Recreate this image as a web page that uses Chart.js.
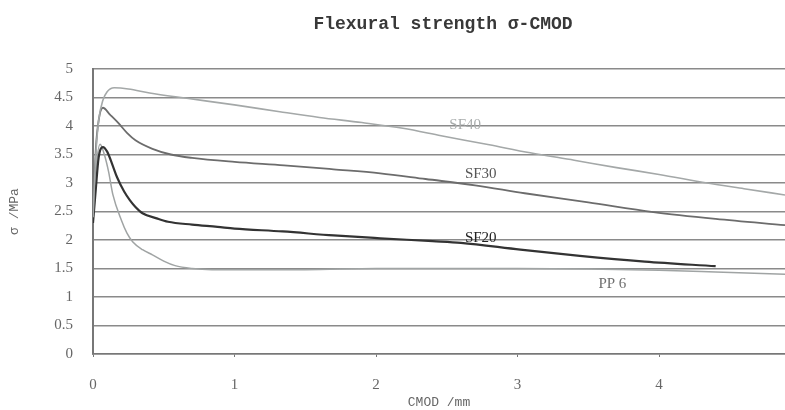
<!DOCTYPE html>
<html>
<head>
<meta charset="utf-8">
<script src="https://cdn.jsdelivr.net/npm/chart.js@4/dist/chart.umd.min.js"></script>
<style>
html,body{margin:0;padding:0;background:#fff;}
#wrap{width:785px;height:410px;}
</style>
</head>
<body>
<div id="wrap"><canvas id="c" width="785" height="410"></canvas></div>
<script>
const chartTitle = "Flexural strength \u03c3-CMOD";
const xTitle = "CMOD /mm";
const yTitle = "\u03c3 /MPa";

const sf40X = [0, 0.02, 0.04, 0.07, 0.1, 0.15, 0.25, 0.4, 0.65, 1.0, 1.32, 1.6, 1.9, 2.19, 2.46, 2.8, 3.09, 3.4, 3.7, 4.0, 4.34, 4.6, 4.89];
const sf40Y = [2.4, 3.5, 4.1, 4.45, 4.6, 4.67, 4.65, 4.58, 4.49, 4.37, 4.25, 4.15, 4.06, 3.96, 3.83, 3.67, 3.53, 3.40, 3.27, 3.15, 3.0, 2.9, 2.79];

const sf30X = [0, 0.02, 0.04, 0.07, 0.12, 0.18, 0.24, 0.3, 0.42, 0.55, 0.7, 1.0, 1.35, 1.7, 2.03, 2.35, 2.7, 3.05, 3.5, 3.96, 4.4, 4.89];
const sf30Y = [2.4, 3.6, 4.1, 4.32, 4.2, 4.05, 3.88, 3.75, 3.6, 3.5, 3.44, 3.37, 3.31, 3.24, 3.17, 3.07, 2.96, 2.82, 2.66, 2.49, 2.37, 2.26];

const sf20X = [0, 0.02, 0.04, 0.07, 0.1, 0.14, 0.17, 0.22, 0.26, 0.3, 0.35, 0.45, 0.53, 0.7, 0.88, 1.0, 1.34, 1.7, 2.03, 2.4, 2.6, 3.02, 3.44, 3.9, 4.4];
const sf20Y = [2.3, 2.9, 3.45, 3.63, 3.55, 3.3, 3.1, 2.85, 2.7, 2.58, 2.47, 2.38, 2.32, 2.27, 2.23, 2.2, 2.15, 2.08, 2.03, 1.98, 1.95, 1.83, 1.72, 1.62, 1.54];

const pp6X = [0, 0.02, 0.05, 0.08, 0.11, 0.14, 0.2, 0.24, 0.28, 0.35, 0.42, 0.5, 0.58, 0.7, 0.84, 1.0, 1.5, 2.0, 2.5, 3.0, 3.5, 4.0, 4.4, 4.89];
const pp6Y = [2.3, 3.2, 3.68, 3.5, 3.2, 2.8, 2.35, 2.12, 1.97, 1.83, 1.74, 1.63, 1.55, 1.5, 1.48, 1.48, 1.48, 1.5, 1.5, 1.5, 1.49, 1.47, 1.44, 1.4];

const seriesNames = ["SF40", "SF30", "SF20", "PP 6"];
const labelX = [2.63, 2.74, 2.74, 3.67];
const labelY = [4.01, 3.15, 2.04, 1.23];

const xMin = 0, xMax = 4.89, xStep = 1;
const yMin = 0, yMax = 5, yStep = 0.5;

function pts(xs, ys){ return xs.map((x,i)=>({x:x, y:ys[i]})); }

const lineColors = ["#a4a8a8", "#6c6c6c", "#333333", "#a0a4a4"];
const lineWidths = [1.6, 1.8, 2.2, 1.5];
const labelColors = ["#a8acac", "#555555", "#222222", "#707070"];

const titlePlugin = {
  id: 'titleAndLabels',
  afterDatasetsDraw(chart){
    const ctx = chart.ctx;
    const area = chart.chartArea;
    const xs = chart.scales.x, ys = chart.scales.y;
    ctx.save();
    ctx.fillStyle = "#383838";
    ctx.font = "bold 18px 'Liberation Mono', monospace";
    ctx.textAlign = "center";
    ctx.textBaseline = "middle";
    ctx.fillText(chartTitle, (area.left + area.right)/2 + 4, 24);
    ctx.font = "15px 'Liberation Serif', serif";
    seriesNames.forEach((n,i)=>{
      ctx.fillStyle = labelColors[i];
      ctx.fillText(n, xs.getPixelForValue(labelX[i]), ys.getPixelForValue(labelY[i]));
    });
    ctx.restore();
  }
};

new Chart(document.getElementById('c'), {
  type: 'scatter',
  data: {
    datasets: [
      {label: seriesNames[0], data: pts(sf40X, sf40Y)},
      {label: seriesNames[1], data: pts(sf30X, sf30Y)},
      {label: seriesNames[2], data: pts(sf20X, sf20Y)},
      {label: seriesNames[3], data: pts(pp6X, pp6Y)}
    ].map((d,i)=>Object.assign(d, {
      showLine: true, pointRadius: 0, borderColor: lineColors[i], backgroundColor: lineColors[i],
      borderWidth: lineWidths[i], cubicInterpolationMode: 'monotone', fill: false
    }))
  },
  options: {
    responsive: false,
    animation: false,
    layout: {padding: {top: 69, left: 0, right: 0, bottom: 0}},
    plugins: {legend: {display: false}, tooltip: {enabled: false}, title: {display: false}},
    scales: {
      x: {
        type: 'linear', min: xMin, max: xMax,
        afterFit(s){ s.height = 56; },
        ticks: {stepSize: xStep, includeBounds: false, padding: 19, color: '#666',
          callback: v => String(v),
          font: {family: "'Liberation Serif', serif", size: 15}},
        grid: {display: true, drawOnChartArea: false, tickLength: 3, color: '#777', lineWidth: 1},
        border: {display: true, color: '#777', width: 1.5},
        title: {display: true, text: xTitle, color: '#666', padding: {top: 0, bottom: 0},
          font: {family: "'Liberation Mono', monospace", size: 13}}
      },
      y: {
        type: 'linear', min: yMin, max: yMax,
        afterFit(s){ s.width = 93; },
        ticks: {stepSize: yStep, padding: 20, color: '#666',
          callback: v => String(v),
          font: {family: "'Liberation Serif', serif", size: 15}},
        grid: {display: true, tickLength: 0, color: '#8a8a8a', lineWidth: 1.5},
        border: {display: true, color: '#777', width: 2},
        title: {display: true, text: yTitle, color: '#666', padding: {top: 7, bottom: 0},
          font: {family: "'Liberation Mono', monospace", size: 13}}
      }
    }
  },
  plugins: [titlePlugin]
});
</script>
</body>
</html>
